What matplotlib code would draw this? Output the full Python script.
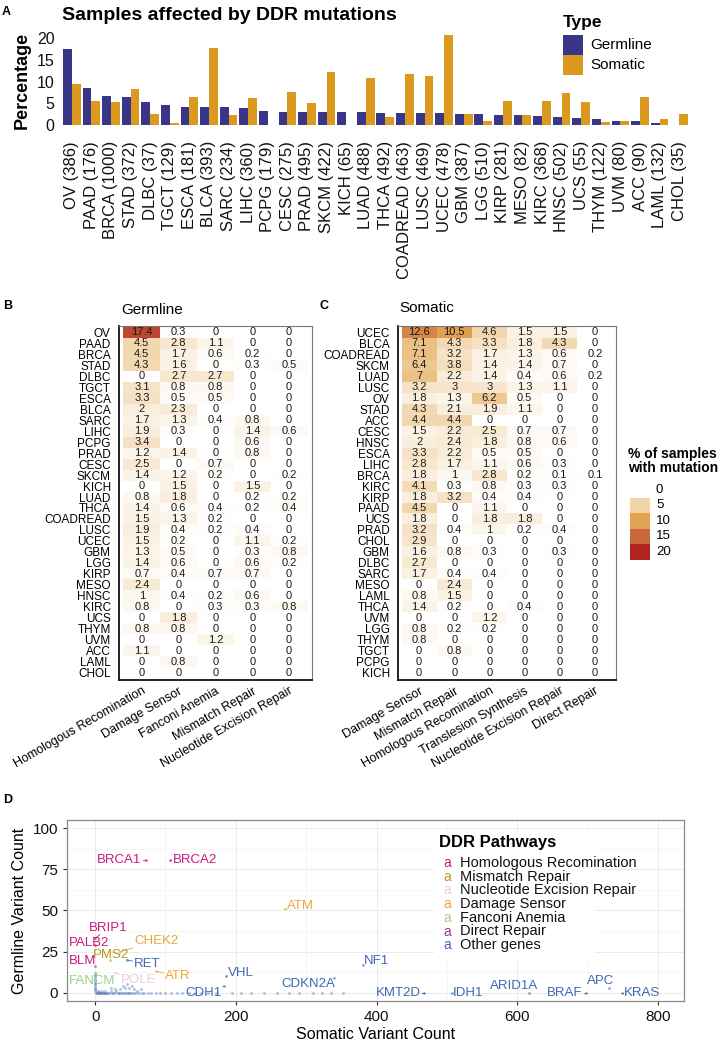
import numpy as np
import matplotlib
matplotlib.use('Agg')
import matplotlib.pyplot as plt
from matplotlib.colors import LinearSegmentedColormap, Normalize
from matplotlib.patches import Rectangle
from matplotlib.lines import Line2D

plt.rcParams['font.family'] = ['Liberation Sans', 'DejaVu Sans']

# ---------------- data ----------------
cancers = ["OV", "PAAD", "BRCA", "STAD", "DLBC", "TGCT", "ESCA", "BLCA", "SARC", "LIHC",
           "PCPG", "CESC", "PRAD", "SKCM", "KICH", "LUAD", "THCA", "COADREAD", "LUSC", "UCEC",
           "GBM", "LGG", "KIRP", "MESO", "KIRC", "HNSC", "UCS", "THYM", "UVM", "ACC", "LAML", "CHOL"]
n_samples = [386, 176, 1000, 372, 37, 129, 181, 393, 234, 360, 179, 275, 495, 422, 65, 488, 492,
             463, 469, 478, 387, 510, 281, 82, 368, 502, 55, 122, 80, 90, 132, 35]
germline_pct = [17.5, 8.4, 6.6, 6.5, 5.2, 4.5, 4.2, 4.2, 4.1, 3.9, 3.2, 3.1, 3.0, 2.9, 2.9, 2.9,
                2.8, 2.8, 2.8, 2.8, 2.6, 2.5, 2.2, 2.2, 2.0, 1.8, 1.6, 1.4, 1.0, 0.85, 0.5, 0.0]
somatic_pct = [9.5, 5.5, 5.4, 8.2, 2.5, 0.5, 6.5, 17.8, 2.3, 6.2, 0.0, 7.5, 5.1, 12.2, 0.0, 10.8,
               1.8, 11.8, 11.2, 20.8, 2.6, 0.9, 5.5, 2.2, 5.5, 7.4, 5.3, 0.6, 1.0, 6.5, 1.3, 2.6]

germ_pathways = ["Homologous Recomination", "Damage Sensor", "Fanconi Anemia",
                 "Mismatch Repair", "Nucleotide Excision Repair"]
germ_rows = ["OV", "PAAD", "BRCA", "STAD", "DLBC", "TGCT", "ESCA", "BLCA", "SARC", "LIHC", "PCPG",
             "PRAD", "CESC", "SKCM", "KICH", "LUAD", "THCA", "COADREAD", "LUSC", "UCEC", "GBM",
             "LGG", "KIRP", "MESO", "HNSC", "KIRC", "UCS", "THYM", "UVM", "ACC", "LAML", "CHOL"]
germ_values = [
    [17.4, 0.3, 0, 0, 0], [4.5, 2.8, 1.1, 0, 0], [4.5, 1.7, 0.6, 0.2, 0], [4.3, 1.6, 0, 0.3, 0.5],
    [0, 2.7, 2.7, 0, 0], [3.1, 0.8, 0.8, 0, 0], [3.3, 0.5, 0.5, 0, 0], [2, 2.3, 0, 0, 0],
    [1.7, 1.3, 0.4, 0.8, 0], [1.9, 0.3, 0, 1.4, 0.6], [3.4, 0, 0, 0.6, 0], [1.2, 1.4, 0, 0.8, 0],
    [2.5, 0, 0.7, 0, 0], [1.4, 1.2, 0.2, 0, 0.2], [0, 1.5, 0, 1.5, 0], [0.8, 1.8, 0, 0.2, 0.2],
    [1.4, 0.6, 0.4, 0.2, 0.4], [1.5, 1.3, 0.2, 0, 0], [1.9, 0.4, 0.2, 0.4, 0], [1.5, 0.2, 0, 1.1, 0.2],
    [1.3, 0.5, 0, 0.3, 0.8], [1.4, 0.6, 0, 0.6, 0.2], [0.7, 0.4, 0.7, 0.7, 0], [2.4, 0, 0, 0, 0],
    [1, 0.4, 0.2, 0.6, 0], [0.8, 0, 0.3, 0.3, 0.8], [0, 1.8, 0, 0, 0], [0.8, 0.8, 0, 0, 0],
    [0, 0, 1.2, 0, 0], [1.1, 0, 0, 0, 0], [0, 0.8, 0, 0, 0], [0, 0, 0, 0, 0]]

som_pathways = ["Damage Sensor", "Mismatch Repair", "Homologous Recomination",
                "Translesion Synthesis", "Nucleotide Excision Repair", "Direct Repair"]
som_rows = ["UCEC", "BLCA", "COADREAD", "SKCM", "LUAD", "LUSC", "OV", "STAD", "ACC", "CESC", "HNSC",
            "ESCA", "LIHC", "BRCA", "KIRC", "KIRP", "PAAD", "UCS", "PRAD", "CHOL", "GBM", "DLBC",
            "SARC", "MESO", "LAML", "THCA", "UVM", "LGG", "THYM", "TGCT", "PCPG", "KICH"]
som_values = [
    [12.6, 10.5, 4.6, 1.5, 1.5, 0], [7.1, 4.3, 3.3, 1.8, 4.3, 0], [7.1, 3.2, 1.7, 1.3, 0.6, 0.2],
    [6.4, 3.8, 1.4, 1.4, 0.7, 0], [7, 2.2, 1.4, 0.4, 0.6, 0.2], [3.2, 3, 3, 1.3, 1.1, 0],
    [1.8, 1.3, 6.2, 0.5, 0, 0], [4.3, 2.1, 1.9, 1.1, 0, 0], [4.4, 4.4, 0, 0, 0, 0],
    [1.5, 2.2, 2.5, 0.7, 0.7, 0], [2, 2.4, 1.8, 0.8, 0.6, 0], [3.3, 2.2, 0.5, 0.5, 0, 0],
    [2.8, 1.7, 1.1, 0.6, 0.3, 0], [1.8, 1, 2.8, 0.2, 0.1, 0.1], [4.1, 0.3, 0.8, 0.3, 0.3, 0],
    [1.8, 3.2, 0.4, 0.4, 0, 0], [4.5, 0, 1.1, 0, 0, 0], [1.8, 0, 1.8, 1.8, 0, 0],
    [3.2, 0.4, 1, 0.2, 0.4, 0], [2.9, 0, 0, 0, 0, 0], [1.6, 0.8, 0.3, 0, 0.3, 0],
    [2.7, 0, 0, 0, 0, 0], [1.7, 0.4, 0.4, 0, 0, 0], [0, 2.4, 0, 0, 0, 0], [0.8, 1.5, 0, 0, 0, 0],
    [1.4, 0.2, 0, 0.4, 0, 0], [0, 0, 1.2, 0, 0, 0], [0.8, 0.2, 0.2, 0, 0, 0], [0.8, 0, 0, 0, 0, 0],
    [0, 0.8, 0, 0, 0, 0], [0, 0, 0, 0, 0, 0], [0, 0, 0, 0, 0, 0]]

legend_breaks = [0, 5, 10, 15, 20]

# panel D: labelled genes (somatic count, germline count, pathway)
genes = ["BRCA1", "BRCA2", "BRIP1", "PALB2", "BLM", "PMS2", "CHEK2", "ATM", "ATR", "POLE",
         "FANCM", "RET", "VHL", "CDH1", "CDKN2A", "NF1", "KMT2D", "IDH1", "ARID1A", "BRAF", "APC", "KRAS"]
gene_somatic = [72, 107, 0, 0, 0, 21, 36, 270, 87, 28, 1, 45, 186, 183, 339, 381, 467, 507, 616, 697, 730, 749]
gene_germline = [81, 81, 33, 29, 16, 20, 25, 51, 13, 12, 12, 20, 10, 4, 9, 17, 0, 0, 0, 0, 3, 0]
gene_pathway = ["HR", "HR", "HR", "HR", "HR", "MMR", "DS", "DS", "DS", "NER", "FA", "OT", "OT", "OT",
                "OT", "OT", "OT", "OT", "OT", "OT", "OT", "OT"]
# unlabelled genes (somatic count, germline count)
other_somatic = [0, 0, 0, 0, 0, 0, 0, 0, 0, 0, 0, 0, 1, 2, 3, 4, 5, 6, 7, 8, 9, 10, 11, 12, 13, 14, 15,
                 16, 18, 20, 22, 24, 26, 28, 30, 32, 34, 36, 38, 40, 42, 44, 46, 48, 50, 52, 55, 58,
                 62, 66, 70, 75, 80, 86, 92, 100, 108, 116, 124, 134, 142, 150, 160, 172, 195, 208,
                 222, 240, 258, 275, 290, 310, 322, 335, 352, 35, 40, 42, 45, 48, 52, 55, 60, 28, 22, 65]
other_germline = [1, 2, 3, 4, 5, 6, 7, 8, 9, 10, 11, 12, 0, 0, 1, 0, 0, 1, 0, 0, 0, 1, 0, 0, 0, 1, 0,
                  0, 0, 0, 1, 0, 0, 0, 1, 0, 0, 0, 0, 0, 0, 0, 0, 0, 0, 0, 0, 0, 0, 0, 0, 0, 0, 0, 0,
                  0, 0, 0, 0, 0, 0, 0, 0, 0, 0, 0, 0, 0, 0, 0, 0, 0, 0, 0, 0, 2, 4, 3, 5, 3, 4, 2, 1, 2, 3, 2]

pathway_names = {"HR": "Homologous Recomination", "MMR": "Mismatch Repair",
                 "NER": "Nucleotide Excision Repair", "DS": "Damage Sensor",
                 "FA": "Fanconi Anemia", "DR": "Direct Repair", "OT": "Other genes"}
pathway_order = ["HR", "MMR", "NER", "DS", "FA", "DR", "OT"]
pathway_colors = {"HR": "#c8197c", "MMR": "#b39c1c", "NER": "#f2c8da", "DS": "#e6a93e",
                  "FA": "#9fd08f", "DR": "#8c3a8c", "OT": "#3d68b3"}

# label placement (layout, data coords of label centre)
label_xy = {"BRCA1": (34, 81), "BRCA2": (142, 81), "BRIP1": (19, 39.5), "PALB2": (-9, 30.5),
            "BLM": (-18, 19), "PMS2": (22, 23), "CHEK2": (87, 31.5), "ATM": (292, 53),
            "ATR": (118, 10.2), "POLE": (62, 8), "FANCM": (-4, 7), "RET": (74, 17.3),
            "VHL": (207, 12.2), "CDH1": (154, 0), "CDKN2A": (303, 5), "NF1": (400, 19.5),
            "KMT2D": (431, 0), "IDH1": (530, 0), "ARID1A": (596, 4.2), "BRAF": (668, 0),
            "APC": (719, 7), "KRAS": (778, 0)}

# ---------------- figure ----------------
W, H = 727, 1041
fig = plt.figure(figsize=(W / 100, H / 100), dpi=100)


def add_ax(l, t, r, b):
    return fig.add_axes([l / W, 1 - b / H, (r - l) / W, (b - t) / H])


def ftxt(x, y, s, **kw):
    return fig.text(x / W, 1 - y / H, s, **kw)


# ---------- Panel A ----------
germ_col = "#3a3687"
som_col = "#db9a1f"
axA = add_ax(60, 30, 692, 130)
xpos = np.arange(1, len(cancers) + 1)
axA.bar(xpos - 0.225, germline_pct, width=0.45, color=germ_col, edgecolor='none')
axA.bar(xpos + 0.225, somatic_pct, width=0.45, color=som_col, edgecolor='none')
axA.set_xlim(0.4, 32.65)
axA.set_ylim(-1.15, 21.85)
axA.set_yticks([0, 5, 10, 15, 20])
axA.set_xticks(xpos)
axA.set_xticklabels([f"{c} ({n})" for c, n in zip(cancers, n_samples)], rotation=90,
                    fontsize=12, color='#111111')
axA.tick_params(axis='x', length=0, pad=8)
axA.tick_params(axis='y', length=0, pad=4, labelsize=11.5, labelcolor='#111111')
for s in axA.spines.values():
    s.set_visible(False)
axA.patch.set_alpha(0)
axA.set_ylabel("Percentage", fontsize=13, fontweight='bold', labelpad=4)
ftxt(2, 12, "A", fontsize=9, fontweight='bold', va='center')
ftxt(62, 15, "Samples affected by DDR mutations", fontsize=14, fontweight='bold', va='center')
ftxt(563, 22, "Type", fontsize=12.5, fontweight='bold', va='center')
fig.patches.append(Rectangle((563 / W, 1 - 55 / H), 20 / W, 20 / H, transform=fig.transFigure,
                             facecolor=germ_col, edgecolor='none'))
fig.patches.append(Rectangle((563 / W, 1 - 75 / H), 20 / W, 20 / H, transform=fig.transFigure,
                             facecolor=som_col, edgecolor='none'))
ftxt(590, 45, "Germline", fontsize=11, va='center')
ftxt(590, 65, "Somatic", fontsize=11, va='center')

# ---------- heatmaps ----------
cmap = LinearSegmentedColormap.from_list(
    "ddr", [(0, "#ffffff"), (0.25, "#f0d3a6"), (0.5, "#e3a552"), (0.75, "#c9683a"), (1, "#b0241f")])
norm = Normalize(0, 20)


def heatmap(ax, rows, cols, vals, pad_x):
    arr = np.array(vals, dtype=float)
    nr, nc = arr.shape
    ax.pcolormesh(np.arange(nc + 1) - 0.5, np.arange(nr + 1) - 0.5, arr, cmap=cmap, norm=norm)
    for i in range(nr):
        for j in range(nc):
            ax.text(j, i, f"{arr[i, j]:g}", ha='center', va='center', fontsize=8, color='#1a1a1a')
    ax.set_xlim(-0.5 - pad_x, nc - 0.5 + pad_x)
    ax.set_ylim(nr - 0.5 + 0.12, -0.5 - 0.12)
    ax.set_yticks(range(nr))
    ax.set_yticklabels(rows, fontsize=8.5)
    ax.set_xticks(range(nc))
    ax.set_xticklabels(cols, rotation=30, ha='right', va='top', rotation_mode='anchor', fontsize=9)
    ax.tick_params(axis='y', length=0, pad=6)
    ax.tick_params(axis='x', length=0, pad=4)
    for k in ['top', 'right']:
        ax.spines[k].set_color('#777777')
        ax.spines[k].set_linewidth(0.8)
    for k in ['left', 'bottom']:
        ax.spines[k].set_color('#111111')
        ax.spines[k].set_linewidth(1.3)


axB = add_ax(119, 325.5, 312, 679.5)
heatmap(axB, germ_rows, germ_pathways, germ_values, 0.12)
ftxt(121, 310, "Germline", fontsize=11, va='center')
ftxt(3, 306, "B", fontsize=9, fontweight='bold', va='center')

axC = add_ax(398, 325.5, 616, 679.5)
heatmap(axC, som_rows, som_pathways, som_values, 0.1)
ftxt(399, 308, "Somatic", fontsize=11, va='center')
ftxt(320, 306, "C", fontsize=9, fontweight='bold', va='center')

# colour legend
ftxt(628, 461, "% of samples\nwith mutation", fontsize=10, fontweight='bold', va='center',
     linespacing=1.0)
key_top = 482
for k, b in enumerate(legend_breaks):
    y0 = key_top + k * 15.5
    fig.patches.append(Rectangle((630 / W, 1 - (y0 + 15.5) / H), 20 / W, 15.5 / H,
                                 transform=fig.transFigure, facecolor=cmap(norm(b)),
                                 edgecolor='none'))
    ftxt(656, y0 + 7.75, str(b), fontsize=9.5, va='center')

# ---------- Panel D ----------
axD = add_ax(67, 820, 684, 1001)
axD.set_xlim(-40, 837)
axD.set_ylim(-5.05, 105.05)
axD.set_xticks([0, 200, 400, 600, 800])
axD.set_yticks([0, 25, 50, 75, 100])
axD.set_xticks([100, 300, 500, 700], minor=True)
axD.set_yticks([12.5, 37.5, 62.5, 87.5], minor=True)
axD.grid(which='major', color='#ebebeb', lw=0.7)
axD.grid(which='minor', color='#f3f3f3', lw=0.5)
axD.set_axisbelow(True)
axD.tick_params(which='minor', length=0)
axD.tick_params(which='major', length=3, color='#333333', labelsize=11, labelcolor='#111111')
for s in axD.spines.values():
    s.set_color('#8a8a8a')
    s.set_linewidth(0.9)
axD.set_xlabel("Somatic Variant Count", fontsize=11.5, labelpad=2)
axD.set_ylabel("Germline Variant Count", fontsize=11.5, labelpad=4)
ftxt(3, 800, "D", fontsize=9, fontweight='bold', va='center')

axD.scatter(other_somatic, other_germline, s=5, color=pathway_colors["OT"], alpha=0.35,
            linewidths=0, zorder=2)
label_texts = []
for g, sx, gy, pw in zip(genes, gene_somatic, gene_germline, gene_pathway):
    col = pathway_colors[pw]
    axD.scatter([sx], [gy], s=4, color=col, alpha=0.6, linewidths=0, zorder=3)
    lx, ly = label_xy[g]
    t = axD.text(lx, ly, g, fontsize=9.5, color=col, ha='center', va='center', zorder=4)
    label_texts.append((t, sx, gy, col))

# legend box
axD.add_patch(Rectangle((0.595, 0.22), 0.26, 0.72, transform=axD.transAxes, facecolor='white',
                        edgecolor='none', zorder=1.5))
ftxt(439, 843, "DDR Pathways", fontsize=12, fontweight='bold', va='center')
for k, pw in enumerate(pathway_order):
    yy = 863 + k * 13.7
    ftxt(443, yy, "a", fontsize=10, color=pathway_colors[pw], va='center')
    ftxt(460, yy, pathway_names[pw], fontsize=10.5, va='center', color='#111111')

# repel-style segments: from the point to the edge of its label box
fig.canvas.draw()
renderer = fig.canvas.get_renderer()
inv = axD.transData.inverted()
for t, sx, gy, col in label_texts:
    bb = t.get_window_extent(renderer).expanded(1.0, 1.0)
    x0, y0, x1, y1 = bb.x0 - 1.5, bb.y0 - 1, bb.x1 + 1.5, bb.y1 + 1
    px, py = axD.transData.transform((sx, gy))
    if x0 <= px <= x1 and y0 <= py <= y1:
        continue
    cx, cy = (x0 + x1) / 2, (y0 + y1) / 2
    dx, dy = px - cx, py - cy
    ts = []
    if dx != 0:
        ts.append(((x1 if dx > 0 else x0) - cx) / dx)
    if dy != 0:
        ts.append(((y1 if dy > 0 else y0) - cy) / dy)
    tt = min(v for v in ts if v > 0)
    ex, ey = cx + tt * dx, cy + tt * dy
    (dx0, dy0), (dx1, dy1) = inv.transform([(ex, ey), (px, py)])
    axD.add_line(Line2D([dx0, dx1], [dy0, dy1], color=col, lw=0.6, zorder=3.5))

fig.savefig("out.png", dpi=100)
